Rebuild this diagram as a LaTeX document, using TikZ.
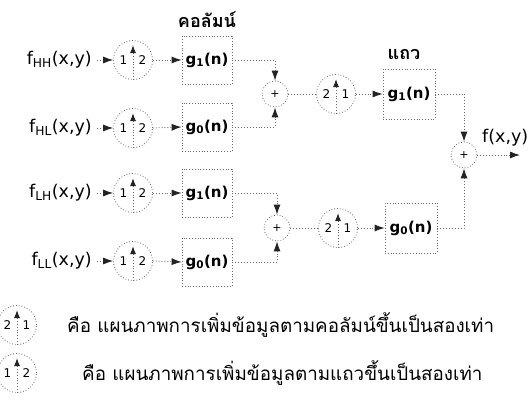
\documentclass[tikz,border=0pt]{standalone}
\usepackage{fontspec}
\setmainfont{DejaVu Sans}
\newfontfamily\thaifont[Script=Thai]{Loma}
\usetikzlibrary{arrows.meta}
\definecolor{lncol}{RGB}{105,105,105}
\definecolor{tipcol}{RGB}{35,35,35}
\tikzset{
  ln/.style={draw=lncol, dotted, line width=0.9pt},
  arr/.style={ln, -{Latex[length=10pt,width=7pt,color=tipcol]}},
  inarr/.style={ln, -{Latex[length=8pt,width=6pt,color=tipcol]}},
  ups/.style={circle, draw=lncol, dotted, line width=0.8pt, minimum size=#1, inner sep=0pt},
  ups/.default=39pt,
  gbox/.style={draw=lncol, dotted, line width=0.8pt, minimum width=50pt, minimum height=48pt, inner sep=0pt, font=\fontsize{15}{17}\selectfont\bfseries},
  sumn/.style={circle, draw=lncol, dotted, line width=0.8pt, minimum size=26pt, inner sep=0pt, font=\fontsize{11}{13}\selectfont},
  lab/.style={font=\fontsize{17.5}{20}\selectfont, inner sep=0pt},
  num/.style={font=\fontsize{12}{14}\selectfont, inner sep=0pt},
  title/.style={font=\thaifont\fontsize{18}{21}\selectfont\bfseries, inner sep=0pt},
  leg/.style={font=\thaifont\fontsize{18.8}{22}\selectfont, inner sep=0pt, anchor=west}
}
\newcommand\upsamp[5]{%
  \node[ups] (#1) at (#2) {};
  \node[num] (#1l) at ([xshift=-9.5pt]#1.center) {#3};
  \node[num] (#1r) at ([xshift=9.5pt]#1.center) {#4};
  \draw[inarr] (#1.south) -- ([yshift=-5pt]#1.north);
  #5}
\begin{document}
\begin{tikzpicture}[x=1pt,y=-1pt]
\useasboundingbox[fill=white] (0,0) rectangle (529,411);

% inputs
\node[lab, anchor=east] (fhh) at (92,60) {f\textsubscript{HH}(x,y)};
\node[lab, anchor=east] (fhl) at (92,128) {f\textsubscript{HL}(x,y)};
\node[lab, anchor=east] (flh) at (92,193) {f\textsubscript{LH}(x,y)};
\node[lab, anchor=east] (fll) at (92,261) {f\textsubscript{LL}(x,y)};

% first upsampling (rows)
\upsamp{u1}{133,60}{1}{2}{}
\upsamp{u2}{133,128}{1}{2}{}
\upsamp{u3}{133,193}{1}{2}{}
\upsamp{u4}{133,261}{1}{2}{}

% column filters
\node[title] (tcol) at (207,20) {คอลัมน์};
\node[gbox] (b1) at (207,60) {g\textsubscript{1}(n)};
\node[gbox] (b2) at (207,127) {g\textsubscript{0}(n)};
\node[gbox] (b3) at (207,193) {g\textsubscript{1}(n)};
\node[gbox] (b4) at (207,262) {g\textsubscript{0}(n)};

\foreach \a/\u/\b in {fhh/u1/b1, fhl/u2/b2, flh/u3/b3, fll/u4/b4}{
  \draw[arr] ([xshift=5pt]\a.east) -- (\u.west);
  \draw[arr] (\u.east) -- (\b.west);
}

% sums
\node[sumn] (s1) at (275,94) {+};
\node[sumn] (s2) at (277,228) {+};
\draw[arr] (b1.east) -| (s1.north);
\draw[arr] (b2.east) -| (s1.south);
\draw[arr] (b3.east) -| (s2.north);
\draw[arr] (b4.east) -| (s2.south);

% second upsampling (columns)
\upsamp{v1}{336,94}{2}{1}{}
\upsamp{v2}{338,228}{2}{1}{}
\draw[ln] (s1.east) -- (v1.west);
\draw[ln] (s2.east) -- (v2.west);

% row filters
\node[title] (trow) at (404,55) {แถว};
\node[gbox, minimum width=52pt, minimum height=50pt] (r1) at (409,94) {g\textsubscript{1}(n)};
\node[gbox, minimum width=52pt, minimum height=50pt] (r2) at (411,228) {g\textsubscript{0}(n)};
\draw[arr] (v1.east) -- (r1.west);
\draw[arr] (v2.east) -- (r2.west);

% final sum
\node[sumn] (s3) at (464,155) {+};
\draw[arr] (r1.east) -| (s3.north);
\draw[arr] (r2.east) -| (s3.south);
\coordinate (out) at (520,155);
\draw[arr] (s3.east) -- (out);
\node[lab, anchor=west] (fout) at (482,138) {f(x,y)};

% legend
\upsamp{l1}{17,325}{2}{1}{}
\upsamp{l2}{17,373}{1}{2}{}
\node[leg] (t1) at (67,325) {คือ แผนภาพการเพิ่มข้อมูลตามคอลัมน์ขึ้นเป็นสองเท่า};
\node[leg] (t2) at (82,373) {คือ แผนภาพการเพิ่มข้อมูลตามแถวขึ้นเป็นสองเท่า};
\end{tikzpicture}
\end{document}
